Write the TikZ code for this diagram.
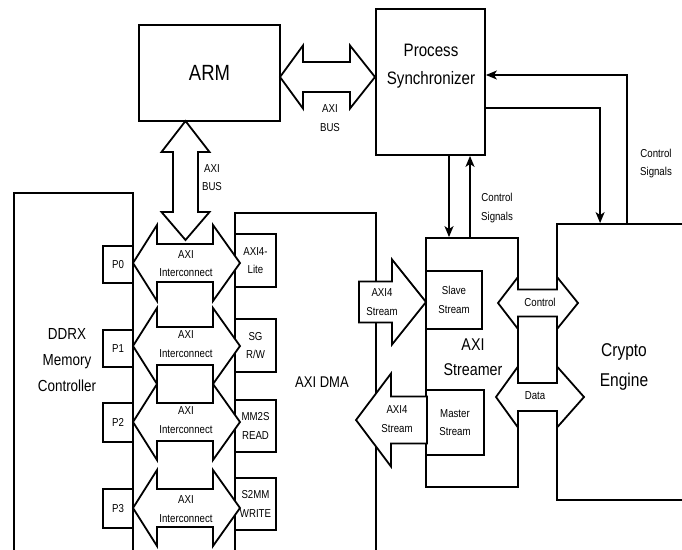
\documentclass[tikz,border=0pt]{standalone}
\usepackage{fontspec}
\setmainfont{Liberation Sans}[FakeStretch=0.84]
\usetikzlibrary{arrows.meta}
% horizontal double fat arrow: x1,x2,y,shafthalf,headhalf,headlen1,headlen2
\newcommand\HFatD[7]{%
  \filldraw[fat] (#1,#3) -- (#1+#6,#3-#5) -- (#1+#6,#3-#4) -- (#2-#7,#3-#4) -- (#2-#7,#3-#5) -- (#2,#3)
   -- (#2-#7,#3+#5) -- (#2-#7,#3+#4) -- (#1+#6,#3+#4) -- (#1+#6,#3+#5) -- cycle;}
% vertical double fat arrow: x,y1,y2,shafthalf,headhalf,headlen1,headlen2
\newcommand\VFatD[7]{%
  \filldraw[fat] (#1,#2) -- (#1+#5,#2+#6) -- (#1+#4,#2+#6) -- (#1+#4,#3-#7) -- (#1+#5,#3-#7) -- (#1,#3)
   -- (#1-#5,#3-#7) -- (#1-#4,#3-#7) -- (#1-#4,#2+#6) -- (#1-#5,#2+#6) -- cycle;}
% right-pointing fat arrow: tailx, tipx, y, shafthalf, headhalf, headlen
\newcommand\RFat[6]{%
  \filldraw[fat] (#1,#3-#4) -- (#2-#6,#3-#4) -- (#2-#6,#3-#5) -- (#2,#3) -- (#2-#6,#3+#5) -- (#2-#6,#3+#4) -- (#1,#3+#4) -- cycle;}
% left-pointing fat arrow: tipx, tailx, y, shafthalf, headhalf, headlen
\newcommand\LFat[6]{%
  \filldraw[fat] (#1,#3) -- (#1+#6,#3-#5) -- (#1+#6,#3-#4) -- (#2,#3-#4) -- (#2,#3+#4) -- (#1+#6,#3+#4) -- (#1+#6,#3+#5) -- cycle;}
\tikzset{
  box/.style={draw, line width=1.8pt, fill=white, inner sep=0pt, rectangle},
  fat/.style={line width=1.8pt, fill=white, draw=black, line join=miter},
  sig/.style={line width=1.8pt, -{Stealth[length=11pt,width=9pt,inset=3pt]}},
  small/.style={font=\fontsize{11.5}{18.5}\selectfont, align=center, inner sep=0pt},
  mid/.style={font=\fontsize{16}{26}\selectfont, align=center, inner sep=0pt},
}
\begin{document}
\begin{tikzpicture}[x=1pt,y=-1pt]
\useasboundingbox (0,0) rectangle (682,549);
\clip (0,0) rectangle (682,549);
% main boxes
\node[box, minimum width=141pt, minimum height=96pt] (arm) at (209.5,73) {};
\node[box, minimum width=109pt, minimum height=146pt] (ps) at (430.5,82) {};
\node[box, minimum width=119pt, minimum height=447pt] (ddr) at (73.5,416.5) {};
\node[box, minimum width=141pt, minimum height=427pt] (dma) at (305.5,426.5) {};
\node[box, minimum width=92pt, minimum height=249pt] (axs) at (472,362.5) {};
\node[box, minimum width=183pt, minimum height=276pt] (cry) at (648.5,362) {};
\node[box, minimum width=56pt, minimum height=58pt, small] (slave) at (454,300) {Slave\\Stream};
\node[box, minimum width=58pt, minimum height=65pt, small] (master) at (455,422.5) {Master\\Stream};
% ports
\node[box, minimum width=30pt, minimum height=37pt, small] (p0) at (118,264.5) {P0};
\node[box, minimum width=30pt, minimum height=37pt, small] (p1) at (118,348.5) {P1};
\node[box, minimum width=30pt, minimum height=39pt, small] (p2) at (118,422.5) {P2};
\node[box, minimum width=30pt, minimum height=39pt, small] (p3) at (118,508.5) {P3};
\node[box, minimum width=41pt, minimum height=53pt, small] (lite) at (255.5,260.5) {AXI4-\\Lite};
\node[box, minimum width=41pt, minimum height=53pt, small] (sg) at (255.5,345.5) {SG\\R/W};
\node[box, minimum width=41pt, minimum height=52pt, small] (mm2s) at (255.5,426) {MM2S\\READ};
\node[box, minimum width=41pt, minimum height=52pt, small] (s2mm) at (255.5,504) {S2MM\\WRITE};
% box texts
\node[font=\fontsize{22}{26}\selectfont, inner sep=0pt] (armt) at (209.5,73) {ARM};
\node[font=\fontsize{18}{28}\selectfont, align=center, inner sep=0pt] (pst) at (431,66) {Process\\Synchronizer};
\node[mid] (ddrt) at (67,360) {DDRX\\Memory\\Controller};
\node[font=\fontsize{15.5}{20}\selectfont, inner sep=0pt] (dmat) at (322,382) {AXI DMA};
\node[font=\fontsize{17}{25}\selectfont, align=center, inner sep=0pt] (axst) at (473,357) {AXI\\Streamer};
\node[font=\fontsize{18.5}{30}\selectfont, align=center, inner sep=0pt] (cryt) at (624,367) {Crypto\\Engine};
% fat arrows
\HFatD{133}{240}{263}{19}{38}{24}{27}
\HFatD{133}{240}{346}{19}{38}{24}{27}
\HFatD{133}{240}{422}{19}{38}{24}{27}
\HFatD{133}{240}{508}{19}{38}{24}{27}
\VFatD{185.5}{121}{240}{12.5}{24}{31}{28}
\HFatD{280}{375}{77}{15}{31.5}{23}{25}
\RFat{359}{426}{302}{20.5}{42.5}{34}
\LFat{356}{427}{420}{23.5}{46.5}{35}
\HFatD{498}{578}{303}{13.5}{26}{20}{21}
\HFatD{496}{584}{397}{14}{30.5}{22}{27}
% fat arrow labels
\node[small] (ic0) at (186,263.5) {AXI\\Interconnect};
\node[small] (ic1) at (186,344) {AXI\\Interconnect};
\node[small] (ic2) at (186,420) {AXI\\Interconnect};
\node[small] (ic3) at (186,509) {AXI\\Interconnect};
\node[small] (bus1) at (330,118) {AXI\\BUS};
\node[small] (bus2) at (212,177.5) {AXI\\BUS};
\node[small] (st1) at (382,302) {AXI4\\Stream};
\node[small] (st2) at (397,419) {AXI4\\Stream};
\node[small] (ctl) at (540,302) {Control};
\node[small] (dat) at (535,396) {Data};
\node[small] (cs1) at (497,208) {Control\\Signals};
\node[small] (cs2) at (656,163.5) {Control\\Signals};
% control signal connectors
\draw[sig] ([xshift=18.5pt]ps.south) -- ([xshift=18.5pt]ps.south |- axs.north);
\draw[sig] ([xshift=39.5pt]ps.south |- axs.north) -- ([xshift=39.5pt]ps.south);
\draw[sig] ([yshift=-26pt]ps.east) -| ([xshift=44pt]cry.north west);
\draw[sig] ([xshift=71pt]cry.north west) |- ([yshift=7pt]ps.east);
\end{tikzpicture}
\end{document}
